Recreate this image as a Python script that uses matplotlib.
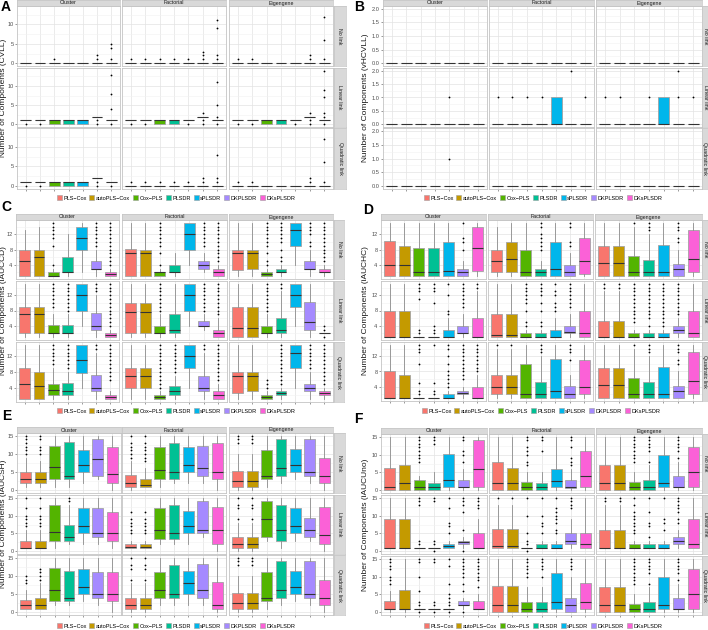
import matplotlib
matplotlib.use("Agg")
import matplotlib.pyplot as plt
from matplotlib.patches import Patch
from matplotlib.ticker import AutoMinorLocator

plt.rcParams["font.family"] = ["Liberation Sans", "DejaVu Sans"]

W, H = 708, 630

methods = ["PLS\u2212Cox", "autoPLS\u2212Cox", "Cox\u2212PLS", "PLSDR", "sPLSDR", "DKPLSDR", "DKsPLSDR"]
colors = ["#F8766D", "#C49A00", "#53B400", "#00C094", "#00B6EB", "#A58AFF", "#FB61D7"]
designs = ["Cluster", "Factorial", "Eigengene"]
links = ["No link", "Linear link", "Quadratic link"]

# each box: (whisker low, q1, median, q3, whisker high, outliers)
# layout: [link row][design column][method]
cvll = [
    [
        [(0, 0, 0, 0, 0, []), (0, 0, 0, 0, 0, []), (0, 0, 0, 0, 0, [1]), (0, 0, 0, 0, 0, []),
         (0, 0, 0, 0, 0, []), (0, 0, 0, 0, 0, [1, 2]), (0, 0, 0, 0, 0, [1, 4, 5])],
        [(0, 0, 0, 0, 0, [1]), (0, 0, 0, 0, 0, [1]), (0, 0, 0, 0, 0, [1]), (0, 0, 0, 0, 0, [1]),
         (0, 0, 0, 0, 0, [1]), (0, 0, 0, 0, 0, [1, 2, 3]), (0, 0, 0, 0, 0, [1, 2, 9, 11])],
        [(0, 0, 0, 0, 0, [1]), (0, 0, 0, 0, 0, [1]), (0, 0, 0, 0, 0, []), (0, 0, 0, 0, 0, []),
         (0, 0, 0, 0, 0, []), (0, 0, 0, 0, 0, [1, 2]), (0, 0, 0, 0, 0, [1, 6, 12])],
    ],
    [
        [(1, 1, 1, 1, 1, [0]), (1, 1, 1, 1, 1, [0]), (0, 0, 1, 1, 1, []), (0, 0, 1, 1, 1, []),
         (0, 0, 1, 1, 1, []), (2, 2, 2, 2, 2, [0, 1]), (1, 1, 1, 1, 1, [0, 4, 8, 13])],
        [(1, 1, 1, 1, 1, [0]), (1, 1, 1, 1, 1, [0]), (0, 0, 1, 1, 1, []), (0, 0, 1, 1, 1, []),
         (1, 1, 1, 1, 1, [0]), (2, 2, 2, 2, 2, [0, 1, 3]), (1, 1, 1, 1, 1, [0, 2, 5, 11])],
        [(1, 1, 1, 1, 1, [0]), (1, 1, 1, 1, 1, [0]), (0, 0, 1, 1, 1, []), (0, 0, 1, 1, 1, []),
         (1, 1, 1, 1, 1, [0]), (2, 2, 2, 2, 2, [0, 1, 3]), (1, 1, 1, 1, 1, [0, 2, 3, 7, 9, 14])],
    ],
    [
        [(1, 1, 1, 1, 1, [0]), (1, 1, 1, 1, 1, [0]), (0, 0, 1, 1, 1, []), (0, 0, 1, 1, 1, []),
         (0, 0, 1, 1, 1, []), (2, 2, 2, 2, 2, [0, 1]), (1, 1, 1, 1, 1, [0])],
        [(0, 0, 0, 0, 0, [1]), (0, 0, 0, 0, 0, [1]), (0, 0, 0, 0, 0, [1]), (0, 0, 0, 0, 0, [1]),
         (0, 0, 0, 0, 0, [1]), (0, 0, 0, 0, 0, [1, 2]), (0, 0, 0, 0, 0, [1, 2, 8])],
        [(0, 0, 0, 0, 0, [1]), (0, 0, 0, 0, 0, [1]), (0, 0, 0, 0, 0, []), (0, 0, 0, 0, 0, []),
         (0, 0, 0, 0, 0, []), (0, 0, 0, 0, 0, [1, 2]), (0, 0, 0, 0, 0, [1, 6, 12])],
    ],
]

vhcvll = [
    [
        [(0, 0, 0, 0, 0, [])] * 7,
        [(0, 0, 0, 0, 0, [])] * 7,
        [(0, 0, 0, 0, 0, [])] * 7,
    ],
    [
        [(0, 0, 0, 0, 0, []), (0, 0, 0, 0, 0, []), (0, 0, 0, 0, 0, []), (0, 0, 0, 0, 0, []),
         (0, 0, 0, 0, 0, [1]), (0, 0, 0, 0, 0, []), (0, 0, 0, 0, 0, [])],
        [(0, 0, 0, 0, 0, [1]), (0, 0, 0, 0, 0, [1]), (0, 0, 0, 0, 0, [1]), (0, 0, 0, 0, 0, [1]),
         (0, 0, 0, 1, 1, []), (0, 0, 0, 0, 0, [2]), (0, 0, 0, 0, 0, [1])],
        [(0, 0, 0, 0, 0, [1]), (0, 0, 0, 0, 0, [1]), (0, 0, 0, 0, 0, []), (0, 0, 0, 0, 0, [1]),
         (0, 0, 0, 1, 1, []), (0, 0, 0, 0, 0, [1, 2]), (0, 0, 0, 0, 0, [1])],
    ],
    [
        [(0, 0, 0, 0, 0, []), (0, 0, 0, 0, 0, []), (0, 0, 0, 0, 0, []), (0, 0, 0, 0, 0, []),
         (0, 0, 0, 0, 0, [1]), (0, 0, 0, 0, 0, []), (0, 0, 0, 0, 0, [])],
        [(0, 0, 0, 0, 0, [])] * 7,
        [(0, 0, 0, 0, 0, [])] * 7,
    ],
]

iauccd = [
    [
        [(1, 1, 5, 8, 13, []), (1, 1, 6, 8, 14, []), (1, 1, 1, 2, 3, [4, 9, 11, 12, 13, 14, 15]),
         (1, 2, 2, 6, 12, []), (2, 8, 11, 14, 15, []), (1, 3, 3, 5, 8, [9, 10, 11, 12, 13, 14, 15]),
         (1, 1, 1.5, 2, 3, [4, 5, 6, 7, 8, 9, 10, 11, 12, 13, 14, 15])],
        [(1, 1, 7, 8.2, 15, []), (1, 1, 7, 8, 15, []), (1, 1, 2, 2, 3, [4, 7, 9, 10, 11, 12, 13, 14, 15]),
         (1, 2, 2, 4, 7, []), (4, 8, 12, 15, 15, []), (2, 3, 4, 5, 7, [9, 10, 11, 12, 13, 14, 15]),
         (1, 1, 2, 3, 4, [5, 6, 7, 8, 9, 10, 11, 12, 13, 14, 15])],
        [(1, 2.7, 7, 8, 15, []), (1, 3, 7, 8, 15, []), (1, 1, 1.5, 2, 3, [4, 5, 7, 9, 10, 11, 12, 13, 14, 15]),
         (1, 2, 2, 3, 4, [5, 6, 8, 10, 11, 12, 13, 14, 15]), (4, 9, 13, 15, 15, []),
         (1, 3, 3, 5, 8, [9, 10, 12, 13, 14, 15]), (1, 2, 2, 3, 4, [5, 6, 7, 8, 9, 10, 11, 12, 13, 14, 15])],
    ],
    [
        [(1, 2, 7, 9, 15, []), (1, 2, 7, 9, 15, []), (1, 2, 2, 4.3, 7, [9, 10, 11, 12, 13, 14, 15]),
         (1, 2, 2, 4.3, 7, [8, 9, 10, 11, 12, 13, 14, 15]), (4, 8, 12, 15, 15, []),
         (1, 3, 4, 7.3, 12, [13, 14, 15]), (1, 1, 1.5, 2, 3, [4, 5, 6, 7, 8, 9, 10, 11, 12, 13, 14, 15])],
        [(1, 2, 7.5, 10, 15, []), (1, 2, 7.5, 10, 15, []), (1, 2, 2, 4, 7, [8, 9, 10, 11, 12, 13, 14, 15]),
         (1, 2, 3, 7, 15, []), (4, 8, 12, 15, 15, []), (3, 4, 4, 5.3, 7, [8, 9, 10, 11, 12, 13, 14, 15]),
         (1, 1, 2, 3, 6, [7, 8, 9, 10, 11, 12, 13, 14, 15])],
        [(1, 1, 3.5, 9, 15, []), (1, 1, 3.5, 9, 15, []), (1, 2, 2, 4, 7, [8, 9, 10, 11, 12, 13, 14, 15]),
         (1, 2, 3, 6, 13, [14, 15]), (4, 9, 12, 15, 15, []), (1, 3, 5, 10.3, 15, []),
         (2, 2, 2, 2, 2, [1, 3, 4])],
    ],
    [
        [(1, 1, 5, 9, 15, []), (1, 1, 4.5, 8, 15, []), (1, 2, 3.5, 5, 9, [10, 11, 12, 13, 14, 15]),
         (1, 2, 3, 5.3, 8, [9, 10, 11, 12, 13, 14, 15]), (4, 7.8, 11, 15, 15, []),
         (1, 3, 4, 7.3, 13, [14, 15]), (1, 1, 1.5, 2, 3, [6, 7, 8, 9, 10, 11, 12, 13, 14, 15])],
        [(1, 4, 7, 9, 15, []), (1, 4, 7, 9, 15, []), (1, 1, 1.5, 2, 3, [4, 5, 6, 7, 8, 9, 10, 11, 12, 13, 14, 15]),
         (1, 2, 3, 4.3, 7, [8, 9, 10, 11, 12, 13, 14, 15]), (4, 9, 12, 15, 15, []),
         (1, 3, 4, 7, 13, [14, 15]), (1, 1, 2, 3, 5, [6, 7, 8, 9, 10, 11, 12, 13, 14, 15])],
        [(1, 2.7, 7, 8, 15, []), (1, 3, 7, 8, 15, []), (1, 1, 1.5, 2, 3, [4, 5, 6]),
         (1, 2, 2.5, 3, 4, [5, 6, 7, 8, 9, 10, 11, 12, 13, 14, 15]), (4, 9, 13, 15, 15, []),
         (1, 3, 4, 5, 8, [9, 10, 11, 12, 13, 14, 15]), (1, 2, 2.5, 3, 4, [5, 6, 7, 8, 9, 10, 11, 12, 13, 14, 15])],
    ],
]

iauchc = [
    [
        [(1, 1, 4, 10.2, 15, []), (1, 1, 4, 9, 15, []), (1, 1, 2, 8.3, 15, []), (1, 1, 2, 8.5, 15, []),
         (1, 1, 2.3, 10, 15, []), (1, 1, 2, 3, 5, [8, 10, 11, 15]), (1, 2.5, 8.5, 14, 15, [])],
        [(1, 2, 5, 8, 14, []), (1, 2, 5.5, 10, 15, []), (1, 1, 2, 8, 15, []),
         (1, 1, 2, 3, 5, [8, 9, 10, 11, 12, 14, 15]), (1, 1, 3, 10, 15, []),
         (1, 1, 2, 4, 7, [9, 10, 14, 15]), (1, 1.5, 5, 11, 15, [])],
        [(1, 1, 4.5, 9, 15, []), (1, 1, 4.5, 9, 15, []), (1, 1, 2, 6.3, 14, [15]),
         (1, 1, 2, 5.3, 12, [13, 14, 15]), (1, 1, 2, 9.3, 15, []),
         (1, 1, 3, 4.3, 8, [10, 11, 13, 14, 15]), (1, 2, 5.5, 13, 15, [])],
    ],
    [
        [(1, 1, 1, 8, 15, []), (1, 1, 1, 8, 15, []), (1, 1, 1, 1.2, 1, [2, 3, 11, 13, 14, 15]),
         (1, 1, 1, 1.2, 1, [2, 3, 4, 10, 13, 14, 15]), (1, 1, 1, 3, 6, [7, 8, 12, 15]),
         (1, 2, 2, 4, 7, [9, 10, 11, 12, 13, 14, 15]), (1, 1, 1, 6, 13, [14, 15])],
        [(1, 1, 1.5, 7, 15, []), (1, 1, 1.5, 7, 15, []), (1, 1, 1, 2, 3, [4, 5, 8, 10, 11, 12, 13, 14, 15]),
         (1, 1, 1, 2, 3, [4, 5, 8, 10, 12, 13, 14, 15]), (1, 1, 1, 3, 6, [8, 9, 10, 12, 13, 15]),
         (1, 2, 2.5, 4, 7, [9, 10, 11, 12, 13, 14, 15]), (1, 1, 2, 8, 15, [])],
        [(1, 1, 1, 5.3, 13, [14, 15]), (1, 1, 1, 5.3, 13, [14, 15]),
         (1, 1, 1, 2, 3, [5, 6, 7, 8, 9, 10, 11, 12, 13, 14, 15]),
         (1, 1, 1, 2, 3, [4, 6, 7, 8, 9, 10, 11, 12, 13, 14, 15]),
         (1, 1, 1, 2.2, 3, [4, 5, 6, 7, 8, 9, 10, 11, 12, 13, 14, 15]),
         (1, 2, 3, 4, 6, [7, 8, 9, 10, 11, 12, 13, 14, 15]), (1, 1, 2, 8, 15, [])],
    ],
    [
        [(1, 1, 1, 8, 15, []), (1, 1, 1, 7, 15, []), (1, 1, 1, 1, 1, [2, 3, 5, 10, 13, 14, 15]),
         (1, 1, 1, 1, 1, [2, 3, 5, 15]), (1, 1, 1, 2, 3, [4, 5, 6, 7, 8, 10, 12, 14, 15]),
         (1, 2, 2.5, 3, 4, [6, 7, 8, 9, 10, 11, 12, 13, 14, 15]), (1, 1, 1, 4, 7, [8, 9, 10, 11, 12, 13, 14, 15])],
        [(1, 2, 4, 7, 14, [15]), (1, 2, 4, 7, 14, [15]), (1, 1, 2, 10, 15, []),
         (1, 1, 2, 5.3, 12, [13, 14, 15]), (1, 1, 3, 11.3, 15, []),
         (1, 1, 2, 4.3, 7, [11, 13, 14, 15]), (1, 2, 4, 11, 15, [])],
        [(1, 1, 4.5, 9, 15, []), (1, 1, 4.5, 9, 15, []), (1, 1, 2, 6.3, 14, [15]),
         (1, 1, 2, 5.3, 12, [13, 14, 15]), (1, 1, 2, 9.3, 15, []),
         (1, 1, 3, 4.3, 8, [10, 11, 13, 14, 15]), (1, 2, 5.5, 13, 15, [])],
    ],
]

iaucsh = [
    [
        [(1, 2, 3, 5, 9, [10, 11, 12, 13, 14, 15]), (1, 2, 3, 5, 8, [10, 11, 12, 14, 15]),
         (1, 3, 6.5, 12.2, 15, []), (1, 3, 4, 13.2, 15, []), (2, 5, 7, 11, 15, []),
         (3, 4, 8.5, 14, 15, []), (0, 2, 4.5, 12, 15, [])],
        [(0, 1, 2, 4.3, 8, [9, 10, 11, 12, 13, 15]), (1, 1, 1.5, 3.2, 6, [8, 9, 10, 11, 12, 13, 15]),
         (1, 3, 5.5, 12, 15, []), (2, 3, 5, 13, 15, []), (2, 5, 7, 12, 15, []),
         (2, 4, 6, 12.3, 15, []), (0, 3, 5, 13, 15, [])],
        [(0, 1, 2.5, 5.3, 10, [13, 14, 15]), (0, 1, 2.5, 5.3, 10, [13, 14, 15]), (1, 3, 4, 11, 15, []),
         (2, 4, 6, 14, 15, []), (3, 5, 7, 11.3, 15, []), (2, 4, 5, 14, 15, []), (0, 2, 4, 9, 15, [])],
    ],
    [
        [(1, 1, 1, 3, 6, [7, 8, 9, 10, 12, 15]), (1, 1, 1, 3, 6, [7, 8, 9, 10, 12, 15]),
         (1, 3, 5.5, 13, 15, []), (2, 3, 4, 7.3, 13, [14, 15]), (2, 5, 7, 12, 15, []),
         (2, 4, 5, 12, 15, []), (1, 3, 5, 11, 15, [])],
        [(1, 1, 1.3, 2, 3, [5, 6, 7, 8, 9, 11]), (1, 1, 1.3, 2, 3, [5, 6, 7, 8, 9, 11]),
         (2, 3.5, 6, 12, 15, []), (2, 3.5, 5, 13, 15, []), (2, 5, 7, 11.3, 15, []),
         (4, 5, 6, 14, 15, []), (0, 2, 6, 12.3, 15, [])],
        [(0, 1, 2, 4, 8, [9, 12, 13, 15]), (0, 1, 2, 4, 8, [9, 12, 13, 15]), (3, 4, 9, 14, 15, []),
         (1, 3, 6, 13, 15, []), (3, 5, 7, 12, 15, []), (3, 4, 6, 9.3, 15, []), (0, 2, 4.5, 12.3, 15, [])],
    ],
    [
        [(1, 1, 2, 3.3, 6, [8, 9, 10]), (1, 1, 2, 4, 8, [9, 10, 11, 12]), (2, 3, 6, 12.3, 15, []),
         (2, 3, 4, 11.3, 15, []), (3, 5, 7, 12, 15, []), (2, 4, 5, 11, 15, []), (0, 3, 5, 11, 15, [])],
        [(0, 1, 2, 4, 8, [9, 12, 13, 15]), (0, 1, 2, 4, 8, [9, 12, 13, 15]), (2, 4, 6, 11, 15, []),
         (2, 4, 5, 13, 15, []), (2, 5, 8, 11.3, 15, []), (2, 4, 6, 13.3, 15, []), (0, 1, 2, 8.3, 15, [])],
        [(0, 1, 2.5, 5.3, 10, [13, 14, 15]), (0, 1, 2.5, 5.3, 10, [13, 14, 15]), (1, 3, 4, 11, 15, []),
         (2, 4, 6, 14, 15, []), (3, 5, 7, 11.3, 15, []), (2, 4, 5, 14, 15, []), (0, 2, 4, 9, 15, [])],
    ],
]

iaucuno = [
    [
        [(0, 0, 1, 6.2, 15, []), (0, 0, 2, 7, 15, []), (0, 0, 1, 3, 4, [8, 9, 10, 11, 12, 13, 14, 15]),
         (0, 0, 1, 2, 5, [13, 14, 15]), (0, 1, 3, 10.2, 15, []), (0, 1, 1, 3, 6, [8, 10, 11, 14, 15]),
         (0, 1, 6, 14, 15, [])],
        [(0, 0, 2, 8, 15, []), (0, 0, 2, 6.2, 15, []), (0, 0, 1, 2.3, 5, [7, 8, 10, 11, 12, 14, 15]),
         (0, 0, 1, 2, 5, [11, 14, 15]), (0, 1, 2.5, 6, 15, []), (0, 0.7, 1, 3, 6, [7, 8, 9, 12, 14, 15]),
         (0, 1, 4, 11, 15, [])],
        [(0, 0, 2, 7, 15, []), (0, 0, 2, 7, 15, []), (0, 0, 1, 2.2, 5, [8, 9, 10, 11, 12, 13, 14, 15]),
         (0, 0, 1, 3, 7, [8, 11, 12, 13, 14, 15]), (0, 1, 2, 10, 15, []),
         (0, 1, 1, 4, 8, [9, 11, 12, 13, 14, 15]), (0, 1, 5, 12, 15, [])],
    ],
    [
        [(1, 1, 1, 9, 15, []), (1, 1, 1, 9, 15, []), (1, 1, 1, 1, 1, [2, 3, 13, 14, 15]),
         (1, 1, 1, 1, 1, [0, 2, 3, 14, 15]), (1, 1, 1.5, 2, 3, [5, 7, 8, 12, 15]),
         (1, 2, 2.5, 3, 4, [0, 6, 11, 13, 14, 15]), (1, 1, 1, 5, 9, [12, 13, 14, 15])],
        [(1, 1, 1.5, 6.3, 13, [15]), (1, 1, 1.5, 6.3, 13, [15]), (1, 1, 1, 1, 1, [0, 2, 3, 5, 10, 15]),
         (1, 1, 1, 2, 3, [5, 7, 8, 10, 15]), (1, 1, 1, 2, 3, [5, 6, 8, 9, 10, 11, 12, 15]),
         (1, 2, 3, 5, 9, [12, 13, 14, 15]), (1, 1, 2, 5, 15, [])],
        [(1, 1, 1, 6, 13, [14, 15]), (1, 1, 1, 6, 13, [14, 15]),
         (1, 1, 1, 2, 3, [5, 6, 7, 8, 9, 10, 11, 13, 15]), (1, 1, 1, 2, 3, [4, 7, 8, 11, 15]),
         (1, 1, 1, 2, 3, [6, 8, 9, 15]), (1, 2, 3, 4, 6, [8, 9, 11, 12, 13, 14, 15]), (1, 1, 2, 9, 15, [])],
    ],
    [
        [(0, 1, 1, 3.2, 6, [8, 9, 10, 12, 13, 14, 15]), (0, 1, 1, 6.2, 15, []),
         (1, 1, 1, 1, 1, [0, 2, 3, 6, 10, 14, 15]), (1, 1, 1, 1, 1, [0, 2, 3, 14, 15]),
         (1, 1, 1, 1, 1, [0, 2, 3, 4, 5, 8, 13, 15]), (1, 2, 2, 3.2, 4, [0, 6, 8, 10, 11, 12, 13, 14, 15]),
         (1, 1, 1, 3.2, 5, [7, 9, 10, 11, 12, 13, 14, 15])],
        [(0, 0, 2, 7.3, 15, []), (0, 0, 2, 7.3, 15, []), (0, 0, 1, 3, 7, [10, 11, 12, 13, 14, 15]),
         (0, 0, 1, 3, 7, [10, 12, 13, 14, 15]), (0, 1, 3, 11, 15, []), (0, 0, 2, 4, 10, [12, 13, 14, 15]),
         (0, 1, 3, 8.3, 15, [])],
        [(0, 0, 2, 7, 15, []), (0, 0, 2, 7, 15, []), (0, 0, 1, 2.2, 5, [8, 9, 10, 11, 12, 13, 14, 15]),
         (0, 0, 1, 3, 7, [8, 11, 12, 13, 14, 15]), (0, 1, 2, 10, 15, []),
         (0, 1, 1, 4, 8, [9, 11, 12, 13, 14, 15]), (0, 1, 5, 12, 15, [])],
    ],
]

STRIP = "#D9D9D9"
BORDER = "#C4C4C4"
TXT = "#4D4D4D"

fig = plt.figure(figsize=(W / 100, H / 100), dpi=100)


def px_rect(x0, y0, x1, y1):
    return [x0 / W, 1 - y1 / H, (x1 - x0) / W, (y1 - y0) / H]


def strip(rect, label, rotation=0):
    sax = fig.add_axes(px_rect(*rect))
    sax.set_facecolor(STRIP)
    sax.set_xticks([])
    sax.set_yticks([])
    for sp in sax.spines.values():
        sp.set_color(BORDER)
        sp.set_linewidth(0.5)
    sax.text(0.5, 0.5, label, transform=sax.transAxes, ha="center", va="center",
             fontsize=3.8, color="#1A1A1A", rotation=rotation)


def draw_panel(data, cols, rows, top, right, ylim, yticks, yticklabels, ylabel, ylab_x,
               letter, letter_xy, legend_xy):
    for i, (y0, y1) in enumerate(rows):
        for j, (x0, x1) in enumerate(cols):
            ax = fig.add_axes(px_rect(x0, y0, x1, y1))
            ax.set_facecolor("white")
            stats = [dict(whislo=b[0], q1=b[1], med=b[2], q3=b[3], whishi=b[4], fliers=b[5])
                     for b in data[i][j]]
            bp = ax.bxp(stats, positions=range(1, 8), widths=0.75, patch_artist=True,
                        showcaps=False, manage_ticks=False,
                        boxprops=dict(edgecolor="#A3A3A3", linewidth=0.6),
                        whiskerprops=dict(color="#8C8C8C", linewidth=0.6),
                        medianprops=dict(color="#333333", linewidth=0.8),
                        flierprops=dict(marker="o", markersize=1.3, markerfacecolor="black",
                                        markeredgecolor="none"))
            for patch, c in zip(bp["boxes"], colors):
                patch.set_facecolor(c)
            ax.set_xlim(0.4, 7.6)
            ax.set_ylim(*ylim)
            ax.set_xticks(range(1, 8))
            ax.set_xticklabels([])
            ax.set_yticks(yticks)
            ax.yaxis.set_minor_locator(AutoMinorLocator(2))
            ax.grid(which="major", color="#E3E3E3", linewidth=0.5)
            ax.grid(which="minor", axis="y", color="#F1F1F1", linewidth=0.4)
            ax.set_axisbelow(True)
            for sp in ax.spines.values():
                sp.set_color(BORDER)
                sp.set_linewidth(0.6)
            ax.tick_params(which="minor", length=0)
            ax.tick_params(which="major", length=1.5, width=0.4, color=TXT,
                           labelsize=4.1, labelcolor=TXT, pad=1)
            if j == 0:
                ax.set_yticklabels(yticklabels)
            else:
                ax.set_yticklabels([])
                ax.tick_params(axis="y", length=0)
            if i < 2:
                ax.tick_params(axis="x", length=0)
            if i == 0:
                strip((x0, top[0], x1, top[1]), designs[j])
        strip((right[0], y0, right[1], y1), links[i], rotation=-90)

    ymid = (rows[0][0] + rows[-1][1]) / 2
    fig.text(ylab_x / W, 1 - ymid / H, ylabel, rotation=90, ha="center", va="center",
             fontsize=6.0, color="#1A1A1A")
    fig.text(letter_xy[0] / W, 1 - letter_xy[1] / H, letter, fontsize=10, weight="bold",
             ha="left", va="top")
    handles = [Patch(facecolor=c, edgecolor="#A0A0A0", linewidth=0.4) for c in colors]
    fig.legend(handles, methods, loc="center", bbox_to_anchor=(legend_xy[0] / W, 1 - legend_xy[1] / H),
               ncol=7, frameon=False, fontsize=4, handlelength=0.9, handleheight=0.9,
               handletextpad=0.3, columnspacing=0.5, borderpad=0, borderaxespad=0)


t15 = [0, 5, 10, 15]
t12 = [4, 8, 12]

draw_panel(cvll, [(17, 120), (122, 226), (229, 333)], [(6, 66), (68, 127), (128, 189)],
           (0, 6), (334, 346), (-0.7, 14.7), [0, 5, 10], ["0", "5", "10"],
           "Number of Components (CVLL)", 4, "A", (1, 0), (176, 198))
draw_panel(vhcvll, [(383, 487), (489, 594), (596, 702)], [(6, 66), (68, 127), (128, 189)],
           (0, 6), (702, 708), (-0.1, 2.1), [0, 0.5, 1, 1.5, 2], ["0.0", "0.5", "1.0", "1.5", "2.0"],
           "Number of Components (vHCVLL)", 366, "B", (354, 0), (543, 198))
draw_panel(iauccd, [(16, 119), (122, 227), (229, 333)], [(220, 279), (281, 340), (342, 402)],
           (214, 220), (334, 344), (0.3, 15.7), t12, ["4", "8", "12"],
           "Number of Components (iAUCCD)", 3.5, "C", (1, 200), (176, 411))
draw_panel(iauchc, [(381, 486), (488, 593), (595, 702)], [(220, 279), (281, 340), (342, 401)],
           (214, 220), (702, 708), (0.3, 15.7), t12, ["4", "8", "12"],
           "Number of Components (iAUCHC)", 366, "D", (363, 203), (541, 411))
draw_panel(iaucsh, [(17, 121), (122, 226), (229, 333)], [(433, 493), (495, 554), (555, 615)],
           (427, 433), (334, 345), (-0.75, 15.75), t15, ["0", "5", "10", "15"],
           "Number of Components (iAUCSH)", 4, "E", (2, 409), (176, 626))
draw_panel(iaucuno, [(381, 487), (489, 594), (596, 702)], [(434, 493), (495, 554), (556, 615)],
           (428, 434), (702, 708), (-0.75, 15.75), t15, ["0", "5", "10", "15"],
           "Number of Components (iAUCUno)", 366, "F", (354, 412), (543, 626))

fig.savefig("out.png", dpi=100)
